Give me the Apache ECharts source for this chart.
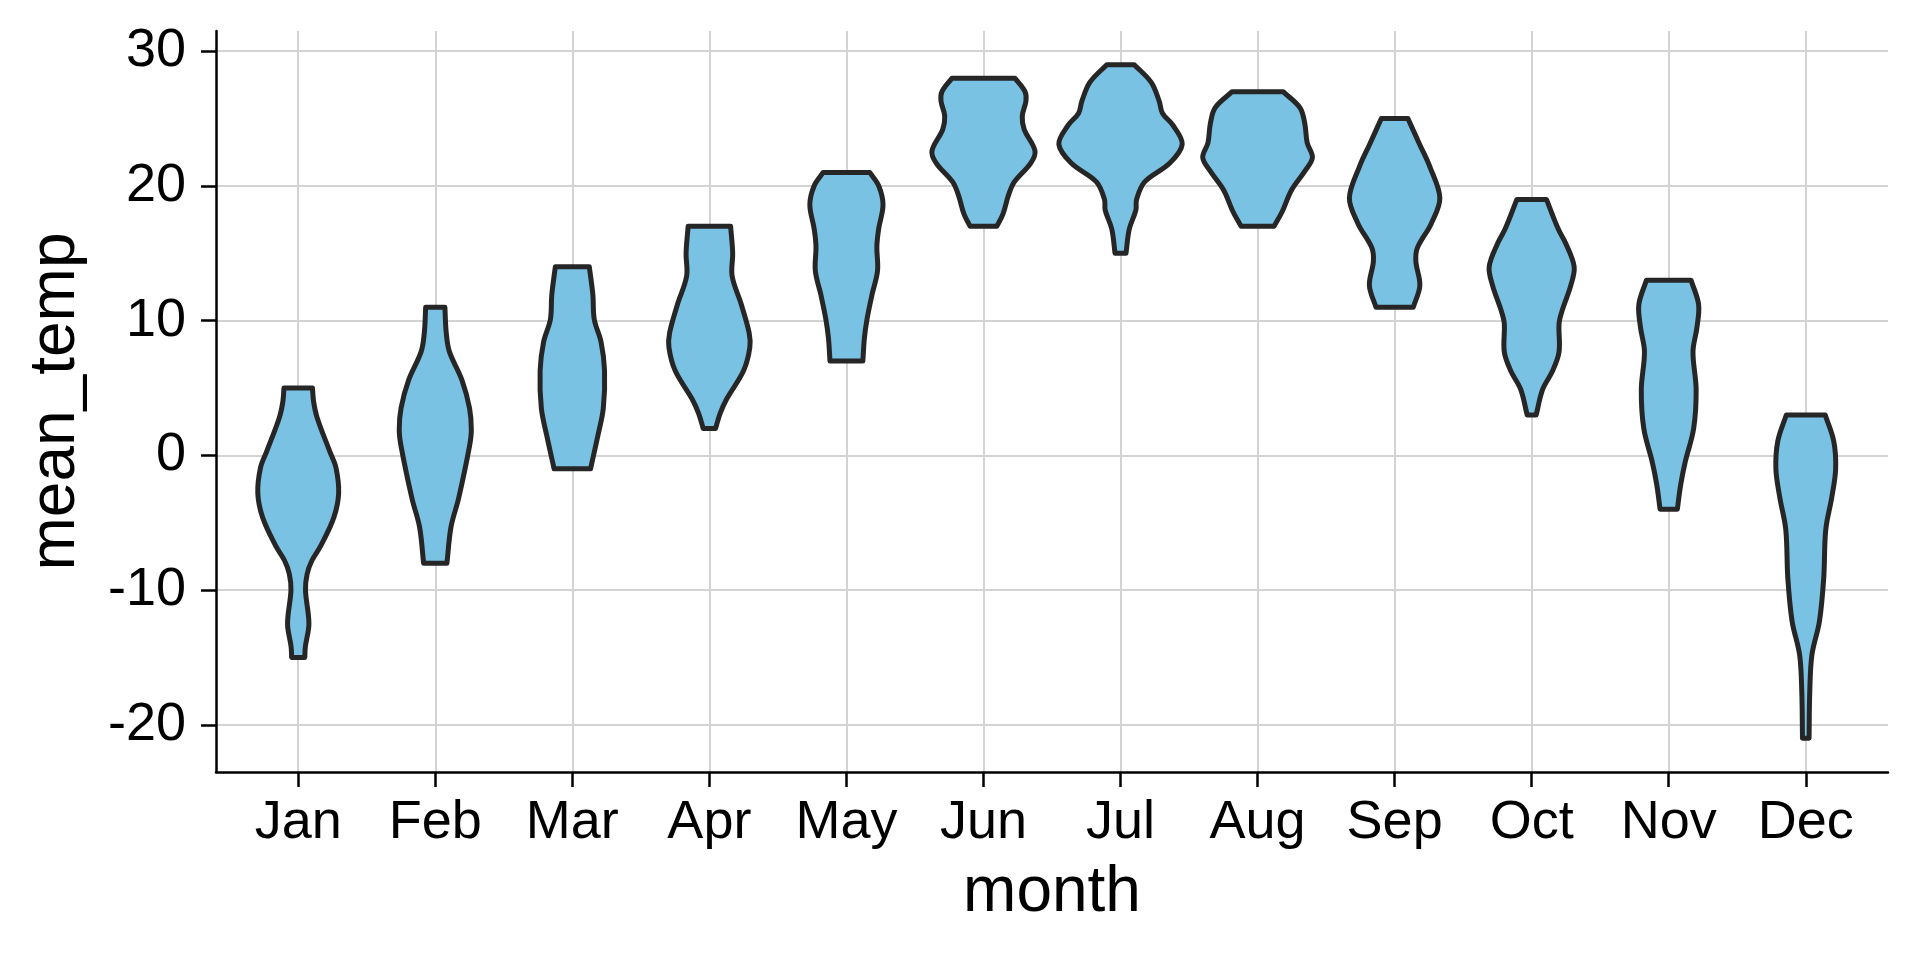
<!DOCTYPE html>
<html>
<head>
<meta charset="utf-8">
<title>mean_temp by month</title>
<script src="https://cdn.jsdelivr.net/npm/echarts@6.0.0/dist/echarts.min.js"></script>
<style>
  html, body { margin: 0; padding: 0; background: #fff; }
  #chart { width: 1920px; height: 960px; }
</style>
</head>
<body>
<div id="chart"></div>
<script>
// x categories and y ticks
var months = ['Jan', 'Feb', 'Mar', 'Apr', 'May', 'Jun', 'Jul', 'Aug', 'Sep', 'Oct', 'Nov', 'Dec'];
var monthTicks = [0, 1, 2, 3, 4, 5, 6, 7, 8, 9, 10, 11];
var tempTicks = [-20, -10, 0, 10, 20, 30];

// violin outlines:
// temperature levels from bottom to top, one row per month
var violinLevels = [
  [-15, -14.2, -12.5, -10, -8.8, -7.8, -6.7, -4.6, -2.8, -0.9, 0.3, 2.8, 4, 5],
  [-8, -5.3, -3.2, 0.7, 1.9, 3.5, 5.6, 7.7, 9.1, 11],
  [-1, 1.4, 3.5, 6.3, 8.4, 10.1, 11.9, 14],
  [2, 3.1, 4.2, 6.3, 8, 9.1, 11.2, 13.3, 15, 17],
  [7, 8.7, 10.1, 11.9, 13.7, 15.5, 16.8, 18.6, 20, 21],
  [17, 17.9, 19.3, 20.3, 21.7, 22.6, 24.2, 25.2, 26.3, 27, 28],
  [15, 16.8, 18.2, 19, 20.3, 21.7, 23.1, 24.5, 25.4, 26.3, 27.7, 29],
  [17, 18.1, 19.7, 21.1, 22.1, 23.2, 24.6, 25.8, 27],
  [11, 12.6, 14.4, 15.4, 17.2, 19.1, 21.4, 23.1, 25],
  [3, 4.9, 6.3, 7.7, 9.8, 10.8, 12.6, 14, 15.75, 16.8, 19],
  [-4, -2.2, -0.5, 2, 4.9, 7.7, 9.5, 11.2, 13],
  [-21, -17.6, -14.8, -12.3, -9.1, -5.5, -3.1, -1, 1.07, 3]
];
// half width of the violin at each level, in category units
var violinWidths = [
  [0.048, 0.052, 0.078, 0.053, 0.065, 0.1, 0.165, 0.26, 0.295, 0.275, 0.23, 0.138, 0.112, 0.104],
  [0.085, 0.115, 0.17, 0.25, 0.263, 0.25, 0.194, 0.103, 0.08, 0.07],
  [0.133, 0.185, 0.226, 0.235, 0.21, 0.16, 0.15, 0.124],
  [0.045, 0.078, 0.127, 0.25, 0.295, 0.29, 0.233, 0.166, 0.17, 0.155],
  [0.12, 0.131, 0.15, 0.186, 0.227, 0.222, 0.235, 0.267, 0.236, 0.17],
  [0.097, 0.142, 0.182, 0.225, 0.345, 0.376, 0.297, 0.283, 0.31, 0.303, 0.23],
  [0.04, 0.064, 0.112, 0.117, 0.176, 0.36, 0.45, 0.383, 0.306, 0.282, 0.223, 0.1],
  [0.12, 0.18, 0.248, 0.345, 0.4, 0.362, 0.345, 0.31, 0.186],
  [0.136, 0.184, 0.155, 0.166, 0.267, 0.33, 0.258, 0.182, 0.097],
  [0.033, 0.08, 0.154, 0.2, 0.2, 0.224, 0.285, 0.31, 0.248, 0.194, 0.108],
  [0.063, 0.087, 0.12, 0.182, 0.2, 0.177, 0.206, 0.218, 0.163],
  [0.024, 0.029, 0.045, 0.1, 0.131, 0.146, 0.19, 0.218, 0.204, 0.142]
];

var font = "'Liberation Sans', Arial, sans-serif";

function renderViolin(params, api) {
  var i = api.value(0);
  var lv = violinLevels[i], hw = violinWidths[i];
  var right = [], left = [];
  for (var k = 0; k < lv.length; k++) {
    right.push(api.coord([i + hw[k], lv[k]]));
    left.unshift(api.coord([i - hw[k], lv[k]]));
  }
  var n = right.length;
  // end points twice so the flat top and bottom keep their corners
  var pts = [].concat([right[0]], right, [right[n - 1]], [left[0]], left, [left[n - 1]]);
  return {
    type: 'polygon',
    shape: { points: pts, smooth: 0.35 },
    style: { fill: '#79c2e4', stroke: '#262626', lineWidth: 5, lineJoin: 'round' }
  };
}

var chart = echarts.init(document.getElementById('chart'));
chart.setOption({
  animation: false,
  backgroundColor: '#fff',
  grid: { left: 216, right: 32, top: 31, bottom: 188 },
  xAxis: {
    type: 'value',
    min: -0.6,
    max: 11.6,
    name: 'month',
    nameLocation: 'middle',
    nameGap: 89,
    nameTextStyle: { fontSize: 64, color: '#000', fontFamily: font },
    axisLine: { show: true, onZero: false, lineStyle: { color: '#000', width: 2.5 } },
    axisTick: { show: true, customValues: monthTicks, length: 15, lineStyle: { color: '#000', width: 2.5 } },
    axisLabel: {
      customValues: monthTicks,
      margin: 24,
      fontSize: 54,
      color: '#000',
      fontFamily: font,
      formatter: function (v) { return months[Math.round(v)]; }
    },
    splitLine: { show: true, lineStyle: { color: '#d3d3d3', width: 2 } }
  },
  yAxis: {
    type: 'value',
    min: -23.5,
    max: 31.5,
    name: 'mean_temp',
    nameLocation: 'middle',
    nameRotate: 90,
    nameGap: 128,
    nameTextStyle: { fontSize: 64, color: '#000', fontFamily: font },
    axisLine: { show: true, onZero: false, lineStyle: { color: '#000', width: 2.5 } },
    axisTick: { show: true, customValues: tempTicks, length: 15, lineStyle: { color: '#000', width: 2.5 } },
    axisLabel: { customValues: tempTicks, margin: 30, fontSize: 54, color: '#000', fontFamily: font },
    splitLine: { show: true, lineStyle: { color: '#d3d3d3', width: 2 } }
  },
  series: [{
    type: 'custom',
    renderItem: renderViolin,
    encode: { x: 0, y: [1, 2] },
    data: violinLevels.map(function (lv, i) { return [i, lv[0], lv[lv.length - 1]]; }),
    z: 3
  }]
});
</script>
</body>
</html>
